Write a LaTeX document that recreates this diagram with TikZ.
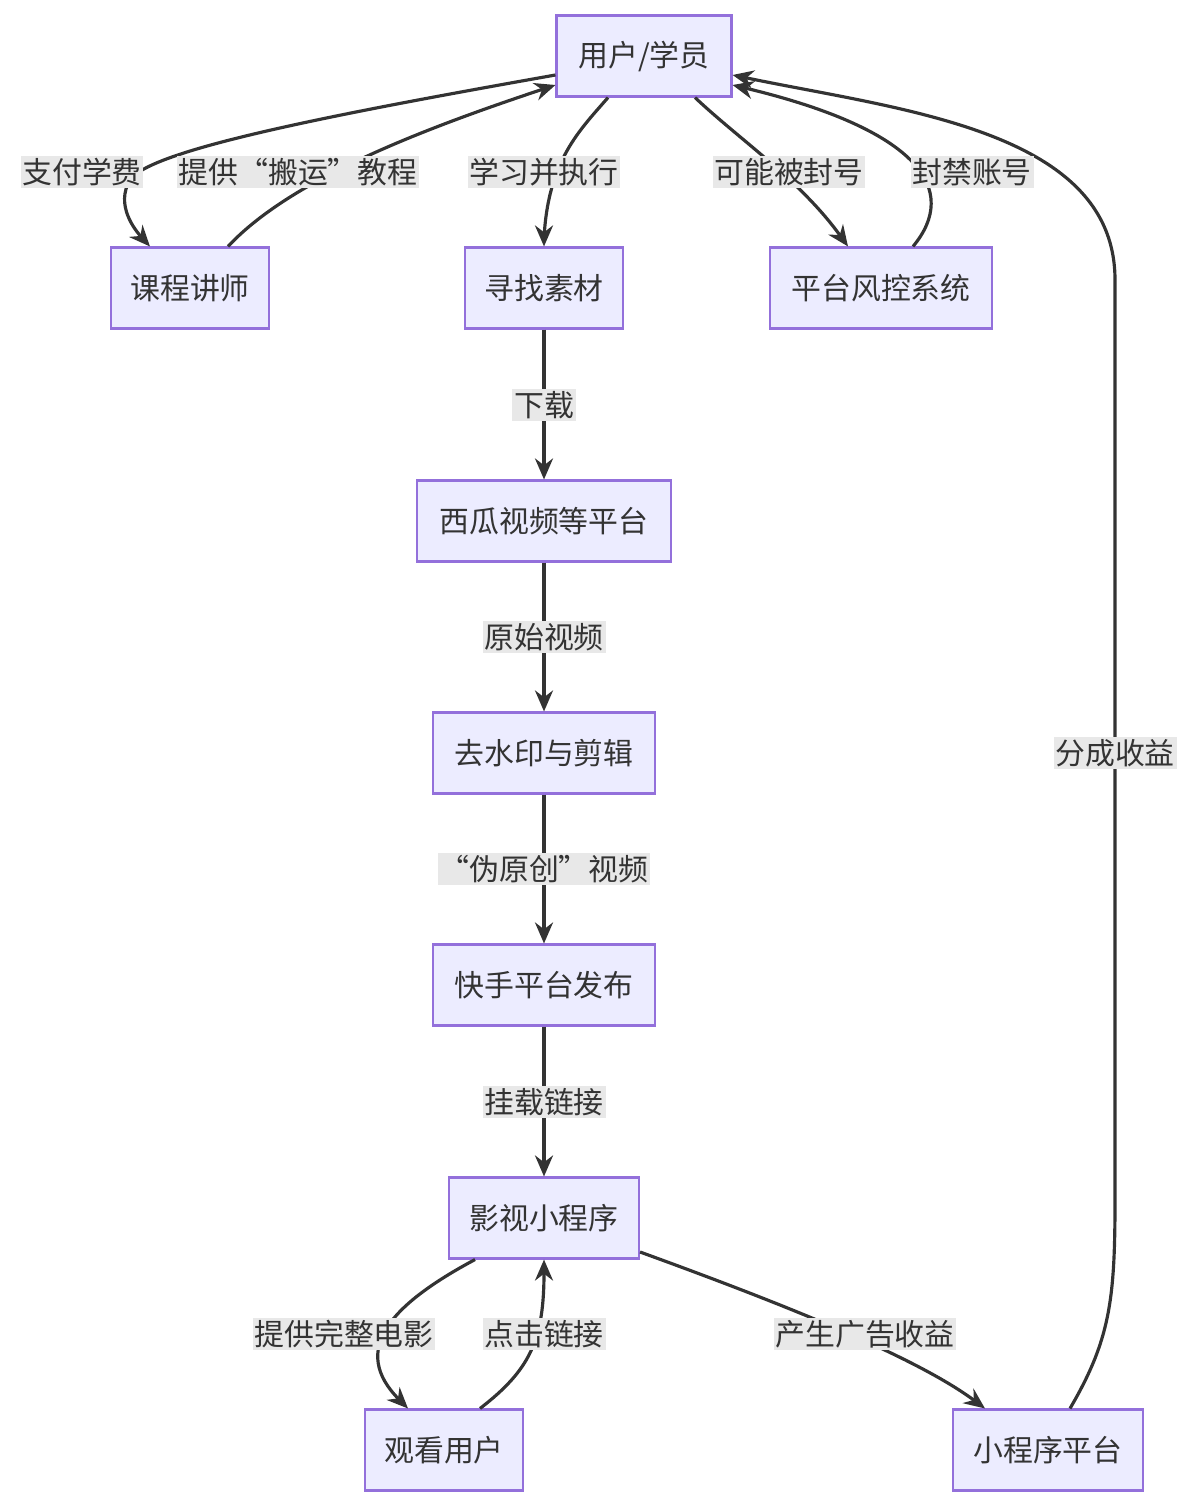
\documentclass[tikz,border=0pt]{standalone}
\usepackage{fontspec}
\setmainfont{Noto Sans CJK SC}
\usetikzlibrary{arrows.meta,calc}
\definecolor{boxfill}{HTML}{ECECFF}
\definecolor{boxline}{HTML}{9370DB}
\definecolor{edge}{HTML}{333333}
\definecolor{lblfill}{HTML}{E8E8E8}
\tikzset{
  box/.style={draw=boxline, fill=boxfill, line width=1.2pt, minimum height=1.62cm, inner xsep=0pt, font=\fontsize{17}{20}\selectfont, text=edge},
  lbl/.style={fill=lblfill, inner sep=1pt, font=\fontsize{17}{20}\selectfont, text=edge},
  flow/.style={draw=edge, line width=1.8pt, -{Stealth[length=0.42cm,width=0.36cm]}}
}
\begin{document}
\begin{tikzpicture}[x=0.02cm, y=-0.02cm]
  \useasboundingbox (0,0) rectangle (1196,1510);

  % boxes
  \node[box, minimum width=3.5cm] (user) at (644,56) {用户/学员};
  \node[box, minimum width=3.16cm] (teacher) at (190,288) {课程讲师};
  \node[box, minimum width=3.16cm] (find) at (544,288) {寻找素材};
  \node[box, minimum width=4.44cm] (risk) at (881,288) {平台风控系统};
  \node[box, minimum width=5.08cm] (xigua) at (544,521) {西瓜视频等平台};
  \node[box, minimum width=4.44cm] (edit) at (544,753) {去水印与剪辑};
  \node[box, minimum width=4.44cm] (publish) at (544,985) {快手平台发布};
  \node[box, minimum width=3.8cm] (mini) at (544,1218) {影视小程序};
  \node[box, minimum width=3.16cm] (viewer) at (444,1450) {观看用户};
  \node[box, minimum width=3.8cm] (platform) at (1048,1450) {小程序平台};

  % connectors
  \draw[flow] ($(user.west)+(0,19)$) .. controls (330,115) and (150,150) .. (130,180) .. controls (115,205) and (135,230) .. ($(teacher.north west)+(40,0)$);
  \draw[flow] ($(teacher.north)+(38,0)$) .. controls (290,180) and (420,130) .. ($(user.west)+(0,29)$);
  \draw[flow] ($(user.south)+(-36,0)$) .. controls (580,130) and (548,160) .. ($(find.north)+(0,-8)$) -- (find.north);
  \draw[flow] ($(user.south)+(51,0)$) .. controls (740,140) and (800,180) .. ($(risk.north)+(-33,0)$);
  \draw[flow] ($(risk.north)+(32,0)$) .. controls (960,190) and (920,130) .. ($(user.east)+(0,29)$);
  \draw[flow] (find) -- (xigua);
  \draw[flow] (xigua) -- (edit);
  \draw[flow] (edit) -- (publish);
  \draw[flow] (publish) -- (mini);
  \draw[flow] ($(mini.south)+(-69,0)$) .. controls (390,1305) and (350,1350) .. ($(viewer.north)+(-36,0)$);
  \draw[flow] ($(viewer.north)+(36,0)$) .. controls (530,1370) and (544,1340) .. (mini.south);
  \draw[flow] ($(mini.east)+(0,34)$) .. controls (800,1310) and (920,1360) .. ($(platform.north)+(-63,0)$);
  \draw[flow] ($(platform.north)+(22,0)$) .. controls (1110,1340) and (1115,1300) .. (1115,1200) -- (1115,280) .. controls (1115,130) and (900,110) .. ($(user.east)+(0,19)$);

  % edge labels
  \node[lbl] (l1) at (82,172) {支付学费};
  \node[lbl] (l2) at (298,172) {提供“搬运”教程};
  \node[lbl] (l3) at (544,172) {学习并执行};
  \node[lbl] (l4) at (789,172) {可能被封号};
  \node[lbl] (l5) at (972,172) {封禁账号};
  \node[lbl] (l6) at (544,405) {下载};
  \node[lbl] (l7) at (544,637) {原始视频};
  \node[lbl] (l8) at (544,869) {“伪原创”视频};
  \node[lbl] (l9) at (544,1102) {挂载链接};
  \node[lbl] (l10) at (344,1334) {提供完整电影};
  \node[lbl] (l11) at (544,1334) {点击链接};
  \node[lbl] (l12) at (865,1334) {产生广告收益};
  \node[lbl] (l13) at (1115,753) {分成收益};
\end{tikzpicture}
\end{document}
